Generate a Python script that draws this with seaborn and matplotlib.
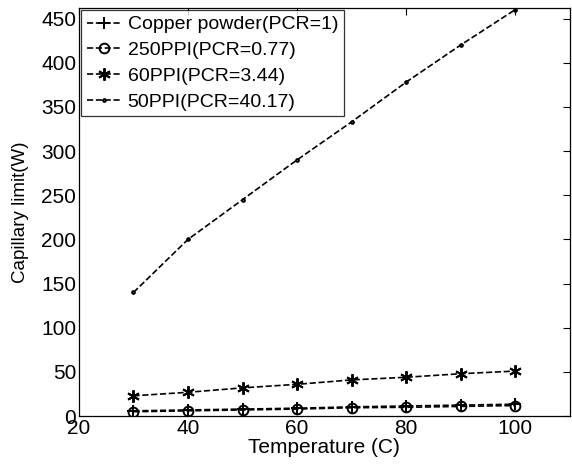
import matplotlib
matplotlib.use("Agg")
import matplotlib.pyplot as plt
import seaborn as sns
import pandas as pd

temperature = [30, 40, 50, 60, 70, 80, 90, 100]
copper_powder = [6, 7, 8, 9, 10.5, 11.5, 12.5, 13.5]
ppi250 = [5, 6, 7, 8, 9.5, 10, 11, 12]
ppi60 = [23, 27, 32, 36, 41, 44, 48, 51]
ppi50 = [140, 200, 245, 290, 333, 378, 420, 460]

series_names = ["Copper powder(PCR=1)", "250PPI(PCR=0.77)", "60PPI(PCR=3.44)", "50PPI(PCR=40.17)"]
series_values = [copper_powder, ppi250, ppi60, ppi50]
markers = ["+", "o", (6, 2, 0), "."]
marker_sizes = [9, 7, 9, 4]

x_ticks = [20, 40, 60, 80, 100]
y_ticks = [0, 50, 100, 150, 200, 250, 300, 350, 400, 450]

sns.set_style("white")
plt.rcParams['font.family'] = ['Liberation Sans', 'DejaVu Sans']
plt.rcParams['text.color'] = 'black'
plt.rcParams['axes.labelcolor'] = 'black'

fig = plt.figure(figsize=(5.72, 4.66), dpi=100)
ax = fig.add_axes([0.138, 0.107, 0.858, 0.876])

for name, vals, mk, ms in zip(series_names, series_values, markers, marker_sizes):
    df = pd.DataFrame({"T": temperature, "W": vals})
    sns.lineplot(data=df, x="T", y="W", ax=ax, color="black", linestyle="--",
                 linewidth=1.2, marker=mk, markersize=ms, markerfacecolor="none",
                 markeredgecolor="black", markeredgewidth=1.4, label=name)

ax.set_xlim(20, 110)
ax.set_ylim(0, 462)
ax.set_xticks(x_ticks)
ax.set_yticks(y_ticks)
ax.tick_params(direction="in", length=5, width=0.8, top=True, right=True,
               labelsize=15, pad=2, colors="black")
for s in ax.spines.values():
    s.set_color("black")
    s.set_linewidth(0.9)
ax.set_xlabel("Temperature (C)", fontsize=15, labelpad=0, color="black")
ax.set_ylabel("Capillary limit(W)", fontsize=13.5, color="black")
ax.yaxis.set_label_coords(-0.102, 0.5)

leg = ax.legend(loc="upper left", fontsize=14, frameon=True, fancybox=False,
                handlelength=1.8, handletextpad=0.3, borderpad=0.3,
                labelspacing=0.42, borderaxespad=0.1, edgecolor="black",
                labelcolor="black")
leg.get_frame().set_linewidth(0.9)

fig.savefig("out.png", dpi=100)
